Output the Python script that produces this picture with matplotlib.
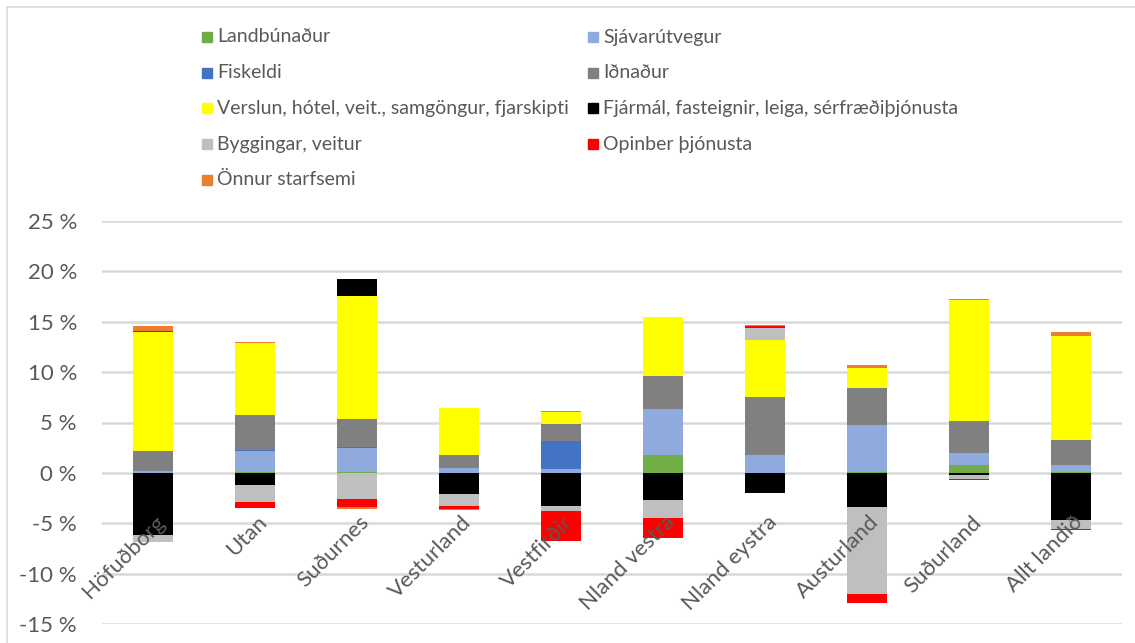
import matplotlib.pyplot as plt
from matplotlib.patches import Rectangle
import numpy as np

plt.rcParams['font.family'] = ['Lato', 'DejaVu Sans']

regions = ['Höfuðborg', 'Utan', 'Suðurnes', 'Vesturland', 'Vestfirðir',
           'Nland vestra', 'Nland eystra', 'Austurland', 'Suðurland', 'Allt landið']

# change by sector, %
landbunadur = [0.0, 0.1, 0.1, 0.0, 0.0, 1.8, 0.0, 0.1, 0.75, 0.1]
sjavarutvegur = [0.15, 2.1, 2.35, 0.5, 0.4, 4.55, 1.75, 4.65, 1.2, 0.65]
fiskeldi = [0.0, 0.1, 0.1, 0.0, 2.75, 0.0, 0.0, 0.05, 0.0, 0.05]
idnadur = [2.0, 3.45, 2.75, 1.3, 1.7, 3.3, 5.8, 3.6, 3.2, 2.5]
verslun = [11.85, 7.1, 12.25, 4.65, 1.15, 5.8, 5.6, 2.05, 12.0, 10.3]
fjarmal = [-6.2, -1.25, 1.7, -2.1, -3.3, -2.7, -1.95, -3.4, -0.25, -4.7]
byggingar = [-0.65, -1.65, -2.55, -1.15, -0.5, -1.8, 1.25, -8.65, -0.4, -0.9]
opinber = [0.1, -0.6, -0.8, -0.35, -3.0, -1.95, 0.15, -0.85, -0.1, -0.1]
onnur = [0.5, 0.1, -0.25, -0.1, 0.1, 0.07, 0.1, 0.25, 0.12, 0.35]

series = [
    ('Landbúnaður', landbunadur, '#70AD47'),
    ('Sjávarútvegur', sjavarutvegur, '#8FAADC'),
    ('Fiskeldi', fiskeldi, '#4472C4'),
    ('Iðnaður', idnadur, '#808080'),
    ('Verslun, hótel, veit., samgöngur, fjarskipti', verslun, '#FFFF00'),
    ('Fjármál, fasteignir, leiga, sérfræðiþjónusta', fjarmal, '#000000'),
    ('Byggingar, veitur', byggingar, '#BFBFBF'),
    ('Opinber þjónusta', opinber, '#FF0000'),
    ('Önnur starfsemi', onnur, '#ED7D31'),
]

W, H = 1135, 643
txt = '#595959'

fig = plt.figure(figsize=(W / 100, H / 100), dpi=100)
ax = fig.add_axes([102 / W, 1 - 624 / H, (1122 - 102) / W, (624 - 221) / H])

x = np.arange(len(regions))
pos_bottom = np.zeros(len(regions))
neg_bottom = np.zeros(len(regions))
for name, vals, color in series:
    vals = np.array(vals)
    bottom = np.where(vals >= 0, pos_bottom, neg_bottom)
    ax.bar(x, vals, 0.39, bottom=bottom, color=color, zorder=3)
    pos_bottom += np.clip(vals, 0, None)
    neg_bottom += np.clip(vals, None, 0)

ax.set_xlim(-0.5, len(regions) - 0.5)
ax.set_ylim(-15, 25)
yt = list(range(-15, 26, 5))
ax.set_yticks(yt)
ax.set_yticklabels([f'{v} %' for v in yt])
ax.set_xticks([])
ax.yaxis.grid(True, color='#d9d9d9', lw=1.8)
ax.set_axisbelow(True)
for s in ax.spines.values():
    s.set_visible(False)
ax.tick_params(axis='y', length=0, pad=18, labelsize=16, labelcolor=txt)

# category labels next to the zero line
for i, r in enumerate(regions):
    ax.text(i + 0.02, -3.9, r, rotation=45, rotation_mode='anchor',
            ha='right', va='top', fontsize=16, color=txt)

# legend, two columns filled row by row
for i, (name, vals, color) in enumerate(series):
    col, row = i % 2, i // 2
    mx = 202 if col == 0 else 588
    my = 37 + row * 35.7
    fig.patches.append(Rectangle((mx / W, 1 - (my + 5) / H), 10 / W, 10 / H,
                                 transform=fig.transFigure, color=color))
    fig.text((mx + 15) / W, 1 - my / H, name, fontsize=14, color=txt,
             va='center', ha='left')

# chart frame
fig.patches.append(Rectangle((7 / W, -0.1), 1.2, 1 - 7 / H + 0.1, fill=False,
                             edgecolor='#d9d9d9', lw=1.2,
                             transform=fig.transFigure))

fig.savefig('out.png', dpi=100)
